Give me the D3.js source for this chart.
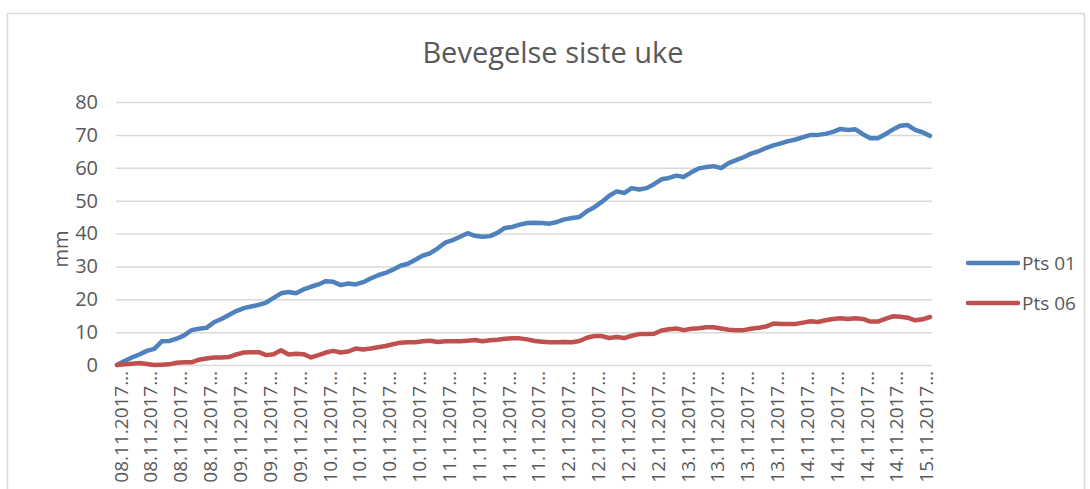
<!DOCTYPE html>
<meta charset="utf-8">
<style>
body { margin: 0; background: #fff; }
text { font-family: "Open Sans", sans-serif; fill: #595959; }
.grid line { stroke: #d9d9d9; stroke-width: 1.5; }
.grid .domain { display: none; }
</style>
<svg width="1090" height="489"></svg>
<script src="https://d3js.org/d3.v7.min.js"></script>
<script>
// tick labels on the category axis (every 4th reading)
var dates = ["08.11.2017", "08.11.2017", "08.11.2017", "08.11.2017",
             "09.11.2017", "09.11.2017", "09.11.2017",
             "10.11.2017", "10.11.2017", "10.11.2017", "10.11.2017",
             "11.11.2017", "11.11.2017", "11.11.2017", "11.11.2017",
             "12.11.2017", "12.11.2017", "12.11.2017", "12.11.2017",
             "13.11.2017", "13.11.2017", "13.11.2017", "13.11.2017",
             "14.11.2017", "14.11.2017", "14.11.2017", "14.11.2017",
             "15.11.2017"];

var series = ["Pts 01", "Pts 06"];

var pts01 = [0, 1.2, 2.3, 3.2, 4.3, 4.9, 7.2, 7.3, 8.0, 9.0,
  10.6, 11.0, 11.3, 13.0, 14.0, 15.2, 16.4, 17.3, 17.8, 18.3,
  19.0, 20.4, 21.8, 22.2, 21.8, 23.0, 23.8, 24.5, 25.5, 25.3,
  24.3, 24.8, 24.5, 25.2, 26.3, 27.3, 28.0, 29.0, 30.2, 30.8,
  32.0, 33.3, 34.0, 35.5, 37.2, 38.0, 39.0, 40.1, 39.3, 39.0,
  39.2, 40.2, 41.7, 42.0, 42.7, 43.2, 43.3, 43.2, 43.0, 43.5,
  44.3, 44.7, 45.0, 46.8, 48.0, 49.6, 51.5, 52.8, 52.3, 53.8,
  53.4, 53.8, 55.0, 56.5, 56.9, 57.6, 57.2, 58.6, 59.8, 60.2,
  60.5, 59.9, 61.4, 62.3, 63.2, 64.3, 65.0, 66.0, 66.8, 67.4,
  68.1, 68.6, 69.3, 70.0, 70.0, 70.3, 70.9, 71.8, 71.5, 71.7,
  70.2, 69.0, 69.0, 70.2, 71.6, 72.8, 73.0, 71.5, 70.8, 69.7];

var pts06 = [0, 0.2, 0.4, 0.6, 0.3, 0, 0.1, 0.2, 0.7, 0.8,
  0.8, 1.6, 2.0, 2.3, 2.3, 2.4, 3.2, 3.8, 3.9, 3.9,
  3.0, 3.3, 4.5, 3.2, 3.4, 3.3, 2.3, 3.0, 3.8, 4.3,
  3.8, 4.1, 5.0, 4.7, 5.0, 5.4, 5.8, 6.3, 6.8, 6.9,
  6.9, 7.2, 7.4, 7.0, 7.2, 7.2, 7.2, 7.4, 7.6, 7.2,
  7.5, 7.7, 8.0, 8.1, 8.1, 7.8, 7.3, 7.1, 6.9, 6.9,
  7.0, 6.9, 7.3, 8.3, 8.8, 8.8, 8.2, 8.5, 8.2, 8.9,
  9.4, 9.4, 9.5, 10.5, 10.9, 11.1, 10.6, 11.0, 11.2, 11.5,
  11.5, 11.1, 10.7, 10.6, 10.6, 11.0, 11.3, 11.7, 12.6, 12.5,
  12.5, 12.5, 12.9, 13.3, 13.1, 13.6, 14.0, 14.2, 14.0, 14.2,
  14.0, 13.2, 13.2, 14.0, 14.8, 14.7, 14.4, 13.6, 13.9, 14.6];

var yTicks = [0, 10, 20, 30, 40, 50, 60, 70, 80];
var colors = ["#4f81bd", "#c0504d"];
</script>
<script>
var svg = d3.select("svg");

// chart frame
svg.append("rect")
    .attr("x", 7.5).attr("y", 13.5)
    .attr("width", 1077).attr("height", 500)
    .attr("fill", "none")
    .attr("stroke", "#d9d9d9")
    .attr("stroke-width", 1.5);

var plotL = 117, plotR = 930, plotT = 102, plotB = 365;

var x = d3.scalePoint()
    .domain(d3.range(pts01.length))
    .range([plotL, plotR]);

var y = d3.scaleLinear()
    .domain([0, 80])
    .range([plotB, plotT]);

// y axis with gridlines
var yAxis = svg.append("g")
    .attr("class", "grid")
    .attr("transform", "translate(" + (plotL - 1) + ",0)")
    .call(d3.axisLeft(y).tickValues(yTicks).tickSize(-(plotR - plotL + 3)).tickPadding(18));
yAxis.selectAll("text")
    .style("font-size", "20px")
    .attr("fill", "#595959");

// x axis, labels every 4th point
var tickIdx = d3.range(0, pts01.length, 4);
var xAxis = svg.append("g")
    .attr("transform", "translate(0," + plotB + ")")
    .call(d3.axisBottom(x).tickValues(tickIdx).tickSize(0)
      .tickFormat(function(d, i) { return dates[i] + "…"; }));
xAxis.select(".domain").remove();
xAxis.selectAll("text")
    .attr("transform", "rotate(-90)")
    .attr("x", -6)
    .attr("y", 0)
    .attr("dx", 0)
    .attr("dy", "0.35em")
    .attr("text-anchor", "end")
    .style("font-size", "19px")
    .attr("fill", "#595959");
xAxis.selectAll(".tick").attr("transform", function(d) { return "translate(" + (x(d) + 4) + ",0)"; });

// title
svg.append("text")
    .attr("x", 553).attr("y", 63)
    .attr("text-anchor", "middle")
    .style("font-size", "29px")
    .text("Bevegelse siste uke");

// y axis title
svg.append("text")
    .attr("transform", "translate(68,249) rotate(-90)")
    .attr("text-anchor", "middle")
    .style("font-size", "20px")
    .text("mm");

var line = d3.line()
    .x(function(d, i) { return x(i); })
    .y(function(d) { return y(d); });

[pts01, pts06].forEach(function(s, k) {
  svg.append("path")
      .datum(s)
      .attr("fill", "none")
      .attr("stroke", colors[k])
      .attr("stroke-width", 4.5)
      .attr("stroke-linejoin", "round")
      .attr("stroke-linecap", "round")
      .attr("d", line);
});

// legend
var legend = svg.append("g").selectAll("g")
    .data(series)
  .enter().append("g")
    .attr("transform", function(d, i) { return "translate(968," + (263 + i * 40) + ")"; });
legend.append("line")
    .attr("x1", 0).attr("x2", 50)
    .attr("stroke", function(d, i) { return colors[i]; })
    .attr("stroke-width", 4.5)
    .attr("stroke-linecap", "round");
legend.append("text")
    .attr("x", 54).attr("dy", "0.35em")
    .style("font-size", "19px")
    .text(function(d) { return d; });
</script>
